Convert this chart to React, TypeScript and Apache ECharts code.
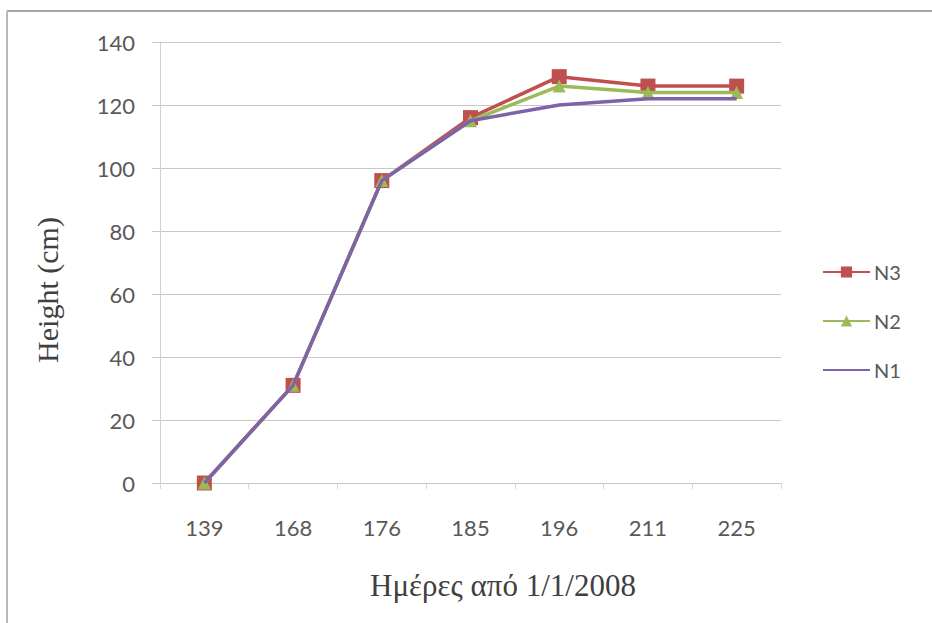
import React, { useEffect, useRef } from "react";
import * as echarts from "echarts";

// Days since 1/1/2008 (category axis)
const days = ["139", "168", "176", "185", "196", "211", "225"];

// Plant height (cm) per nitrogen level
const n3 = [0, 31, 96, 116, 129, 126, 126];
const n2 = [0, 31, 96, 115, 126, 124, 124];
const n1 = [0, 31, 96, 115, 120, 122, 122];

const yTicks = { min: 0, max: 140, interval: 20 };

const LABEL_FONT = "Lato, 'Open Sans', sans-serif";
const TITLE_FONT = "'Liberation Serif', 'DejaVu Serif', serif";

export default function App() {
  const ref = useRef<HTMLDivElement>(null);

  useEffect(() => {
    if (!ref.current) return;
    const chart = echarts.init(ref.current, undefined, { renderer: "svg" });
    chart.setOption({
      animation: false,
      backgroundColor: "#ffffff",
      grid: { left: 160, right: 151, top: 42, bottom: 140, containLabel: false },
      legend: {
        orient: "vertical",
        left: 817,
        top: 257,
        itemWidth: 47,
        itemHeight: 14,
        itemGap: 29,
        data: [
          { name: "N3" },
          { name: "N2" },
          { name: "N1", itemStyle: { opacity: 0 } },
        ],
        textStyle: { fontFamily: LABEL_FONT, fontSize: 20, color: "#595959", padding: [0, 0, 0, -1] },
      },
      xAxis: {
        type: "category",
        data: days,
        boundaryGap: true,
        axisLine: { show: true, lineStyle: { color: "#c8c8c8", width: 1 } },
        axisTick: { show: true, length: 6, lineStyle: { color: "#d8d8d8" } },
        axisLabel: { fontFamily: LABEL_FONT, fontSize: 22, color: "#595959", margin: 33 },
        splitLine: { show: false },
      },
      yAxis: {
        type: "value",
        min: yTicks.min,
        max: yTicks.max,
        interval: yTicks.interval,
        axisLine: { show: true, lineStyle: { color: "#d0d0d0", width: 1 } },
        axisTick: { show: true, length: 8, lineStyle: { color: "#c8c8c8" } },
        axisLabel: { fontFamily: LABEL_FONT, fontSize: 22, color: "#595959", margin: 25 },
        splitLine: { show: true, lineStyle: { color: "#c8c8c8", width: 1 } },
      },
      series: [
        {
          name: "N3",
          type: "line",
          data: n3,
          symbol: "rect",
          symbolSize: 15,
          lineStyle: { color: "#C0504D", width: 3.5 },
          itemStyle: { color: "#C0504D" },
          z: 2,
        },
        {
          name: "N2",
          type: "line",
          data: n2,
          symbol: "triangle",
          symbolSize: 13,
          lineStyle: { color: "#9BBB59", width: 3.5 },
          itemStyle: { color: "#9BBB59" },
          z: 3,
        },
        {
          name: "N1",
          type: "line",
          data: n1,
          symbol: "none",
          lineStyle: { color: "#7F63A8", width: 3.5 },
          itemStyle: { color: "#7F63A8" },
          z: 4,
        },
      ],
      graphic: [
        {
          type: "line",
          shape: { x1: 7, y1: 11, x2: 932, y2: 11 },
          style: { stroke: "#a6a6a6", lineWidth: 2 },
        },
        {
          type: "line",
          shape: { x1: 7, y1: 11, x2: 7, y2: 623 },
          style: { stroke: "#b8b8b8", lineWidth: 2 },
        },
        {
          type: "text",
          x: 47,
          y: 290,
          rotation: Math.PI / 2,
          style: {
            text: "Height (cm)",
            fontFamily: TITLE_FONT,
            fontSize: 30,
            fill: "#404040",
            align: "center",
            verticalAlign: "middle",
          },
        },
        {
          type: "text",
          x: 503,
          y: 585,
          style: {
            text: "Ημέρες από 1/1/2008",
            fontFamily: TITLE_FONT,
            fontSize: 31,
            fill: "#404040",
            align: "center",
            verticalAlign: "middle",
          },
        },
      ],
    });
    return () => chart.dispose();
  }, []);

  return (
    <div
      ref={ref}
      style={{ position: "absolute", left: 0, top: 0, width: 932, height: 623 }}
    />
  );
}
